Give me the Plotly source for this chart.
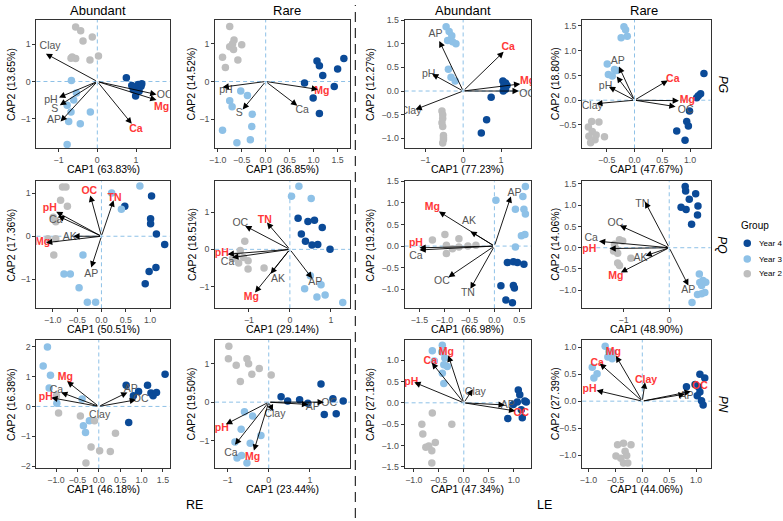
import plotly.graph_objects as go

W, H = 783, 521

# ---------------- data ----------------
COL_TITLES = ["Abundant", "Rare", "Abundant", "Rare"]
ROW_LABELS = ["PG", "PQ", "PN"]
HALF_LABELS = ["RE", "LE"]
GROUPS = ["Year 4", "Year 3", "Year 2"]
LEGEND_TITLE = "Group"

CAP1_PCT = [["63.83", "36.85", "77.23", "47.67"],
            ["50.51", "29.14", "66.98", "48.90"],
            ["46.18", "23.44", "47.34", "44.06"]]
CAP2_PCT = [["13.65", "14.52", "12.27", "18.80"],
            ["17.36", "18.51", "19.23", "14.06"],
            ["16.38", "19.50", "27.18", "27.39"]]

# PG / RE / Abundant
P11_Y4 = [(0.75, 0.10), (1.06, -0.08), (1.13, -0.13), (1.03, -0.20), (0.93, -0.22), (1.08, -0.26), (0.99, -0.39), (1.15, -0.06), (0.89, -0.11)]
P11_Y3 = [(-0.67, 0.03), (-0.54, -0.31), (-0.61, -0.50), (-0.78, -0.64), (-0.68, -0.82), (-0.18, -0.82), (-0.74, -1.08), (-0.44, -1.14), (-0.78, -1.70)]
P11_Y2 = [(-0.56, 1.47), (-0.43, 1.37), (-0.13, 1.20), (-0.37, 1.09), (0.03, 0.69), (-0.65, 0.66), (-0.56, 0.62), (-0.19, 0.58), (-0.68, 0.63)]
P11_VARS = ["Clay", "pH", "S", "AP", "OC", "Mg", "Ca"]
P11_SIG = [0, 0, 0, 0, 0, 1, 1]
P11_TIP = [(-1.33, 0.75), (-0.99, -0.43), (-0.97, -0.64), (-0.95, -1.08), (1.53, -0.35), (1.53, -0.50), (0.89, -1.14)]
P11_LAB = [(-1.22, 0.96), (-1.20, -0.50), (-1.10, -0.75), (-1.12, -1.05), (1.74, -0.37), (1.66, -0.71), (1.00, -1.30)]

# PG / RE / Rare
P12_Y4 = [(1.07, 0.54), (1.12, 0.42), (1.19, 0.16), (0.81, -0.04), (0.99, -0.44), (1.12, -0.85), (1.43, -0.13), (1.50, 0.33), (1.63, 0.61)]
P12_Y3 = [(-0.52, -0.25), (-0.38, -0.37), (-0.75, -0.51), (-0.70, -0.67), (-0.28, -0.87), (-0.29, -1.19), (-0.90, -1.29), (-0.60, -1.62), (-0.32, -1.54)]
P12_Y2 = [(-0.75, 1.46), (-0.66, 1.10), (-0.75, 0.92), (-0.67, 0.85), (-0.50, 0.97), (-0.58, 0.57), (-0.90, 0.64), (-0.84, 0.37), (-0.69, 1.00)]
P12_VARS = ["pH", "S", "Ca", "Mg"]
P12_SIG = [0, 0, 0, 1]
P12_TIP = [(-0.90, -0.15), (-0.48, -0.74), (0.66, -0.64), (1.09, -0.21)]
P12_LAB = [(-0.83, -0.24), (-0.55, -0.84), (0.76, -0.76), (1.17, -0.25)]

# PG / LE / Abundant
P13_Y4 = [(1.05, 0.21), (1.12, 0.17), (1.07, 0.10), (1.16, 0.12), (1.12, 0.04), (1.06, 0.00), (0.74, -0.13), (0.62, -0.61), (0.48, -0.89)]
P13_Y3 = [(-0.45, 1.36), (-0.37, 1.26), (-0.30, 1.17), (-0.41, 1.07), (-0.28, 1.04), (-0.19, 1.00), (-0.39, 0.46), (-0.32, 0.29), (-0.21, 0.21)]
P13_Y2 = [(-0.56, -0.42), (-0.54, -0.50), (-0.56, -0.67), (-0.54, -0.75), (-0.52, -0.94), (-0.52, -1.03), (-0.54, -1.10), (-0.54, -0.58), (-0.52, -0.99)]
P13_VARS = ["AP", "Ca", "pH", "Mg", "OC", "Clay"]
P13_SIG = [0, 1, 0, 1, 0, 0]
P13_TIP = [(-0.63, 1.06), (1.07, 0.83), (-0.82, 0.36), (1.51, 0.15), (1.47, 0.00), (-1.26, -0.39)]
P13_LAB = [(-0.73, 1.19), (1.19, 0.92), (-0.91, 0.35), (1.70, 0.20), (1.69, -0.07), (-1.38, -0.44)]

# PG / LE / Rare
P14_Y4 = [(1.25, 0.54), (1.19, 0.13), (1.15, 0.09), (1.12, 0.05), (0.99, -0.22), (0.94, -0.43), (0.97, -0.52), (0.76, -0.62), (0.91, -0.81)]
P14_Y3 = [(-0.19, 1.48), (-0.16, 1.42), (-0.24, 1.26), (-0.13, 1.29), (-0.49, 0.73), (-0.36, 0.62), (-0.47, 0.52), (-0.40, 0.49), (-0.32, 0.60)]
P14_Y2 = [(-0.77, -0.43), (-0.64, -0.44), (-0.83, -0.54), (-0.76, -0.63), (-0.82, -0.73), (-0.71, -0.80), (-0.54, -0.74), (-0.79, -0.86), (-0.69, -0.70)]
P14_VARS = ["AP", "", "pH", "Ca", "Mg", "OC", "Clay"]
P14_SIG = [0, 0, 0, 1, 1, 0, 0]
P14_TIP = [(-0.28, 0.68), (-0.32, 0.48), (-0.46, 0.27), (0.60, 0.40), (0.80, -0.01), (0.74, -0.13), (-0.69, -0.07)]
P14_LAB = [(-0.30, 0.78), (-0.32, 0.48), (-0.52, 0.28), (0.69, 0.43), (0.95, -0.01), (0.92, -0.20), (-0.76, -0.13)]

# PQ / RE / Abundant
P21_Y4 = [(0.48, 0.70), (1.03, 0.94), (1.01, 0.41), (1.01, 0.29), (1.13, 0.05), (1.30, -0.19), (1.12, -0.73), (0.98, -0.82), (0.90, -1.11)]
P21_Y3 = [(0.79, 1.17), (0.21, 1.01), (0.41, 0.63), (-0.38, -0.44), (-0.77, -0.88), (-0.64, -0.88), (-0.46, -1.20), (-0.29, -1.54), (-0.12, -1.54)]
P21_Y2 = [(-0.80, 1.15), (-0.73, 1.15), (-0.84, 0.84), (-0.70, 0.70), (-0.99, 0.44), (-0.94, 0.34), (-1.10, -0.06), (-0.94, -0.06), (-0.98, -0.44)]
P21_VARS = ["OC", "TN", "pH", "Ca", "AK", "Mg", "AP"]
P21_SIG = [1, 1, 1, 0, 0, 1, 0]
P21_TIP = [(-0.23, 0.95), (0.25, 0.84), (-0.93, 0.57), (-0.89, 0.47), (-0.58, 0.00), (-1.14, -0.15), (-0.21, -0.73)]
P21_LAB = [(-0.25, 1.05), (0.27, 0.88), (-1.06, 0.65), (-0.94, 0.37), (-0.65, -0.02), (-1.21, -0.15), (-0.21, -0.90)]

# PQ / RE / Rare
P22_Y4 = [(0.20, 0.84), (0.44, 0.75), (0.60, 0.78), (0.79, 0.59), (0.28, 0.41), (0.38, 0.22), (0.54, 0.12), (0.68, 0.13), (0.98, 0.00)]
P22_Y3 = [(0.22, 1.70), (0.04, 1.43), (0.52, 1.37), (0.50, -0.71), (0.76, -0.95), (0.36, -1.06), (0.86, -1.23), (0.66, -1.28), (1.29, -1.43)]
P22_Y2 = [(-1.10, 0.22), (-1.21, -0.03), (-1.31, -0.18), (-1.02, -0.31), (-1.25, -0.37), (-1.02, -0.53), (-0.63, -0.50), (-1.13, -0.22), (-1.40, -0.25)]
P22_VARS = ["OC", "TN", "pH", "Ca", "AK", "Mg", "AP"]
P22_SIG = [0, 1, 1, 0, 0, 1, 0]
P22_TIP = [(-1.09, 0.63), (-0.56, 0.72), (-1.52, -0.13), (-1.41, -0.22), (-0.47, -0.66), (-0.85, -1.16), (0.54, -0.78)]
P22_LAB = [(-1.21, 0.69), (-0.61, 0.79), (-1.66, -0.11), (-1.52, -0.35), (-0.29, -0.81), (-0.94, -1.30), (0.62, -0.90)]

# PQ / LE / Abundant
P23_Y4 = [(0.26, -0.38), (0.38, -0.36), (0.46, -0.38), (0.59, -0.42), (0.13, -0.92), (0.38, -0.91), (0.40, -0.97), (0.23, -1.25), (0.36, -1.31)]
P23_Y3 = [(0.62, 1.38), (0.03, 1.06), (0.57, 1.15), (0.42, 0.85), (0.59, 0.85), (0.62, 0.74), (0.54, 0.24), (0.61, 0.27), (0.42, -0.02)]
P23_Y2 = [(-1.24, 0.14), (-0.99, 0.27), (-0.71, 0.17), (-0.96, 0.02), (-0.71, -0.02), (-0.84, -0.06), (-0.37, 0.02), (-0.96, -0.17), (-0.53, 0.00)]
P23_VARS = ["AP", "Mg", "AK", "pH", "Ca", "OC", "TN"]
P23_SIG = [0, 1, 0, 1, 0, 0, 0]
P23_TIP = [(0.33, 1.15), (-1.11, 0.80), (-0.48, 0.34), (-1.50, -0.04), (-1.50, -0.09), (-0.92, -0.72), (-0.48, -0.99)]
P23_LAB = [(0.40, 1.23), (-1.24, 0.89), (-0.51, 0.57), (-1.57, 0.06), (-1.57, -0.23), (-1.05, -0.82), (-0.53, -1.10)]

# PQ / LE / Rare
P24_Y4 = [(0.35, 1.44), (0.36, 1.33), (0.58, 1.27), (0.44, 1.14), (0.26, 0.95), (0.37, 0.90), (0.63, 0.98), (0.62, 0.77), (0.49, 0.55)]
P24_Y3 = [(0.66, -0.62), (0.74, -0.77), (0.80, -0.81), (0.71, -0.89), (0.62, -1.10), (0.71, -1.08), (0.50, -1.29), (0.67, -0.82), (0.78, -1.05)]
P24_Y2 = [(-1.09, 0.19), (-1.02, 0.16), (-1.20, 0.08), (-1.17, -0.02), (-1.22, -0.08), (-1.13, -0.13), (-0.84, -0.25), (-1.13, -0.36), (-1.09, -0.42)]
P24_VARS = ["TN", "OC", "Ca", "pH", "AK", "Mg", "AP"]
P24_SIG = [0, 0, 0, 1, 0, 1, 0]
P24_TIP = [(-0.53, 1.08), (-1.08, 0.52), (-1.54, 0.15), (-1.31, -0.02), (-0.52, -0.19), (-1.06, -0.58), (0.42, -0.89)]
P24_LAB = [(-0.59, 1.02), (-1.18, 0.58), (-1.71, 0.21), (-1.75, -0.04), (-0.63, -0.25), (-1.17, -0.67), (0.42, -1.00)]

# PN / RE / Abundant
P31_Y4 = [(1.55, 1.08), (0.64, 0.71), (1.14, 0.71), (1.22, 0.45), (1.27, 0.36), (1.35, 0.47), (0.81, 0.36), (0.93, 0.50), (0.70, -0.54)]
P31_Y3 = [(-1.20, 1.99), (-1.30, 1.35), (-1.13, 1.04), (-1.16, 0.62), (-0.98, 0.11), (-0.39, 0.25), (-0.22, -0.48), (-0.36, -0.65), (-0.31, -0.87)]
P31_Y2 = [(-0.94, -0.22), (-0.43, -0.32), (-0.10, -0.48), (0.39, -0.90), (-0.18, -1.36), (0.02, -1.48), (0.27, -1.51), (-0.30, -1.89), (-0.99, 0.36)]
P31_VARS = ["Mg", "Ca", "pH", "AP", "OC", "Clay"]
P31_SIG = [1, 0, 1, 0, 0, 0]
P31_TIP = [(-0.74, 0.84), (-0.88, 0.47), (-1.11, 0.29), (0.67, 0.47), (0.87, 0.22), (0.02, -0.03)]
P31_LAB = [(-0.78, 0.97), (-0.99, 0.53), (-1.24, 0.31), (0.75, 0.58), (0.98, 0.22), (0.02, -0.30)]

# PN / RE / Rare
P32_Y4 = [(1.27, 0.47), (0.30, 0.14), (0.46, 0.03), (0.75, 0.06), (0.95, -0.03), (1.56, 0.09), (1.81, 0.03), (1.35, -0.32), (1.64, -0.30)]
P32_Y3 = [(-0.59, -0.25), (-0.39, -0.36), (-0.67, -0.70), (-0.19, -0.86), (-0.82, -1.03), (-0.45, -1.06), (-0.77, -1.44), (-0.66, -1.38), (-0.53, -1.57)]
P32_Y2 = [(-0.97, 1.44), (-0.98, 1.12), (-0.53, 1.12), (-0.79, 0.95), (-0.49, 0.99), (-0.23, 0.87), (-0.41, 0.72), (0.06, 0.70), (-0.69, 0.53)]
P32_VARS = ["pH", "Ca", "Mg", "Clay", "AP", "OC"]
P32_SIG = [1, 0, 1, 0, 0, 0]
P32_TIP = [(-1.04, -0.57), (-0.82, -1.10), (-0.36, -1.25), (0.10, -0.23), (0.96, -0.06), (1.34, 0.00)]
P32_LAB = [(-1.14, -0.68), (-0.92, -1.31), (-0.39, -1.42), (0.15, -0.31), (1.07, -0.13), (1.47, -0.03)]

# PN / LE / Abundant
P33_Y4 = [(1.09, 0.30), (1.12, 0.19), (1.22, 0.04), (1.07, 0.02), (0.99, -0.04), (1.15, -0.16), (0.88, -0.37), (1.17, -0.35), (1.25, 0.02)]
P33_Y3 = [(-0.43, 1.35), (-0.63, 1.22), (-0.44, 1.19), (-0.38, 1.05), (-0.59, 0.98), (-0.40, 0.89), (-0.33, 0.85), (-0.43, 0.69), (-0.40, 0.45)]
P33_Y2 = [(-0.63, -0.24), (-0.84, -0.50), (-0.24, -0.50), (-0.82, -0.73), (-0.57, -0.93), (-0.70, -1.01), (-0.64, -1.12), (-0.76, -1.04), (-0.64, -1.41)]
P33_VARS = ["pH", "Ca", "Mg", "Clay", "AP", "OC"]
P33_SIG = [1, 1, 1, 0, 0, 1]
P33_TIP = [(-0.99, 0.48), (-0.64, 0.94), (-0.31, 1.11), (0.18, 0.32), (0.82, -0.05), (1.03, -0.19)]
P33_LAB = [(-1.05, 0.48), (-0.67, 0.98), (-0.35, 1.17), (0.23, 0.25), (0.88, -0.06), (1.15, -0.24)]

# PN / LE / Rare
P34_Y4 = [(1.07, 0.50), (1.16, 0.43), (0.82, 0.27), (1.04, 0.27), (1.07, 0.17), (1.02, 0.10), (1.10, 0.01), (1.13, -0.07), (0.98, 0.31)]
P34_Y3 = [(-0.69, 1.02), (-0.62, 0.92), (-0.64, 0.82), (-0.56, 0.79), (-0.60, 0.84), (-0.93, 0.63), (-0.84, 0.51), (-0.90, 0.43), (-0.55, 0.90)]
P34_Y2 = [(-0.46, -0.81), (-0.35, -0.78), (-0.21, -0.81), (-0.32, -0.93), (-0.49, -1.02), (-0.40, -1.06), (-0.29, -1.01), (-0.35, -1.15), (-0.27, -1.15)]
P34_VARS = ["Mg", "Ca", "pH", "Clay", "OC", "AP"]
P34_SIG = [1, 1, 1, 1, 1, 0]
P34_TIP = [(-0.49, 0.84), (-0.79, 0.70), (-0.85, 0.20), (0.05, 0.35), (0.90, 0.18), (0.79, 0.13)]
P34_LAB = [(-0.54, 0.90), (-0.84, 0.71), (-0.98, 0.21), (0.07, 0.38), (1.07, 0.27), (0.82, 0.09)]

# axis extents (rows x cols)
X_RANGE = [[(-1.573, 1.872), (-1.055, 1.759), (-1.546, 1.799), (-0.940, 1.369)],
           [(-1.336, 1.404), (-1.825, 1.468), (-1.796, 0.737), (-1.906, 0.906)],
           [(-1.457, 1.659), (-1.304, 1.976), (-1.184, 1.349), (-1.116, 1.268)]]
Y_RANGE = [[(-1.805, 1.664), (-1.774, 1.635), (-1.215, 1.507), (-0.974, 1.623)],
           [(-1.679, 1.282), (-1.586, 1.833), (-1.439, 1.500), (-1.423, 1.562)],
           [(-2.077, 2.231), (-1.712, 1.610), (-1.538, 1.477), (-1.250, 1.140)]]
X_DTICK = [[1, 0.5, 1, 0.5], [0.5, 1, 0.5, 1], [0.5, 1, 0.5, 0.5]]
Y_DTICK = [[1, 1, 0.5, 0.5], [1, 1, 0.5, 0.5], [1, 1, 0.5, 0.5]]

PANELS = [
    [(P11_Y4, P11_Y3, P11_Y2, P11_VARS, P11_SIG, P11_TIP, P11_LAB),
     (P12_Y4, P12_Y3, P12_Y2, P12_VARS, P12_SIG, P12_TIP, P12_LAB),
     (P13_Y4, P13_Y3, P13_Y2, P13_VARS, P13_SIG, P13_TIP, P13_LAB),
     (P14_Y4, P14_Y3, P14_Y2, P14_VARS, P14_SIG, P14_TIP, P14_LAB)],
    [(P21_Y4, P21_Y3, P21_Y2, P21_VARS, P21_SIG, P21_TIP, P21_LAB),
     (P22_Y4, P22_Y3, P22_Y2, P22_VARS, P22_SIG, P22_TIP, P22_LAB),
     (P23_Y4, P23_Y3, P23_Y2, P23_VARS, P23_SIG, P23_TIP, P23_LAB),
     (P24_Y4, P24_Y3, P24_Y2, P24_VARS, P24_SIG, P24_TIP, P24_LAB)],
    [(P31_Y4, P31_Y3, P31_Y2, P31_VARS, P31_SIG, P31_TIP, P31_LAB),
     (P32_Y4, P32_Y3, P32_Y2, P32_VARS, P32_SIG, P32_TIP, P32_LAB),
     (P33_Y4, P33_Y3, P33_Y2, P33_VARS, P33_SIG, P33_TIP, P33_LAB),
     (P34_Y4, P34_Y3, P34_Y2, P34_VARS, P34_SIG, P34_TIP, P34_LAB)],
]

# ---------------- styling ----------------
FONT = "Liberation Sans, Arial, Helvetica, sans-serif"
GROUP_COLORS = ["#0B4A97", "#8EC1E7", "#BEBEBE"]
REF_LINE = "#8EC1E7"
RED = "#FF3838"
GREY_TXT = "#555555"
COL_PX = [(30.7, 165.0), (210.7, 346.7), (401.7, 529.3), (580.7, 710.0)]
ROW_PX = [(15.0, 145.7), (179.0, 308.0), (340.0, 470.7)]
YTITLE_X = [5.0, 186.7, 366.7, 553.3]
TITLE_X = [93.0, 283.0, 461.0, 643.0]
LEG_TITLE_XY = (739, 224)
LEG_KEY_X, LEG_TEXT_X = 747, 757
LEG_ROW_Y = [242, 258, 273]

fig = go.Figure()
layout = {}
annotations = []
shapes = []

for r in range(3):
    for c in range(4):
        k = r * 4 + c + 1
        xs = "" if k == 1 else str(k)
        xref, yref = "x" + xs, "y" + xs
        y4, y3, y2, vnames, sig, tips, labs = PANELS[r][c]

        # points
        for gi, pts in enumerate([y4, y3, y2]):
            fig.add_trace(go.Scatter(
                x=[p[0] for p in pts], y=[p[1] for p in pts], mode="markers",
                marker=dict(color=GROUP_COLORS[gi], size=7.5, line=dict(width=0)),
                name=GROUPS[gi], showlegend=False, xaxis=xref, yaxis=yref,
                hoverinfo="skip"))

        # arrows from origin to biplot tips
        for t in tips:
            annotations.append(dict(
                x=t[0], y=t[1], ax=0, ay=0, xref=xref, yref=yref,
                axref=xref, ayref=yref, text="", showarrow=True,
                arrowhead=2, arrowsize=1.4, arrowwidth=0.9, arrowcolor="black",
                standoff=0, startstandoff=0))

        # labels (grey: ns, red bold: significant)
        for flag, color in [(0, GREY_TXT), (1, RED)]:
            sel = [i for i in range(len(vnames)) if sig[i] == flag and vnames[i]]
            if not sel:
                continue
            fig.add_trace(go.Scatter(
                x=[labs[i][0] for i in sel], y=[labs[i][1] for i in sel],
                mode="text",
                text=[("<b>%s</b>" % vnames[i]) if flag else vnames[i] for i in sel],
                textfont=dict(color=color, size=10.5, family=FONT),
                textposition="middle center", showlegend=False,
                xaxis=xref, yaxis=yref, hoverinfo="skip"))

        # dashed reference lines at 0
        shapes.append(dict(type="line", xref=xref, yref=yref + " domain",
                           x0=0, x1=0, y0=0, y1=1, layer="below",
                           line=dict(color=REF_LINE, width=1, dash="4px,3px")))
        shapes.append(dict(type="line", xref=xref + " domain", yref=yref,
                           x0=0, x1=1, y0=0, y1=0, layer="below",
                           line=dict(color=REF_LINE, width=1, dash="4px,3px")))

        x0, x1 = COL_PX[c]
        t0, t1 = ROW_PX[r]
        dx, dy = X_DTICK[r][c], Y_DTICK[r][c]
        axcommon = dict(showline=True, mirror=True, linecolor="#333333", linewidth=1,
                        ticks="outside", ticklen=3, tickwidth=1, tickcolor="#333333",
                        showgrid=False, zeroline=False, tick0=0,
                        tickfont=dict(size=8.8, color="#4D4D4D", family=FONT),
                        fixedrange=True)
        layout["xaxis" + xs] = dict(axcommon, domain=[x0 / W, x1 / W], range=list(X_RANGE[r][c]),
                                    dtick=dx, tickformat=".0f" if dx == 1 else ".1f",
                                    anchor=yref)
        layout["yaxis" + xs] = dict(axcommon, domain=[1 - t1 / H, 1 - t0 / H], range=list(Y_RANGE[r][c]),
                                    dtick=dy, tickformat=".0f" if dy == 1 else ".1f",
                                    anchor=xref)

        # axis titles
        annotations.append(dict(x=(x0 + x1) / 2 / W, y=1 - (t1 + 21) / H, xref="paper", yref="paper",
                                text="CAP1 (%s%%)" % CAP1_PCT[r][c], showarrow=False,
                                font=dict(size=10.5, color="black", family=FONT),
                                xanchor="center", yanchor="middle"))
        annotations.append(dict(x=YTITLE_X[c] / W, y=1 - (t0 + t1) / 2 / H, xref="paper", yref="paper",
                                text="CAP2 (%s%%)" % CAP2_PCT[r][c], showarrow=False, textangle=-90,
                                font=dict(size=10.5, color="black", family=FONT),
                                xanchor="center", yanchor="middle"))

# column titles
for c in range(4):
    annotations.append(dict(x=TITLE_X[c] / W, y=1 - 6 / H, xref="paper", yref="paper",
                            text=COL_TITLES[c], showarrow=False,
                            font=dict(size=13, color="black", family=FONT),
                            xanchor="center", yanchor="middle"))
# row strip labels
for r in range(3):
    annotations.append(dict(x=722 / W, y=1 - (ROW_PX[r][0] + ROW_PX[r][1]) / 2 / H,
                            xref="paper", yref="paper", text="<i>%s</i>" % ROW_LABELS[r],
                            showarrow=False, textangle=90,
                            font=dict(size=12, color="black", family=FONT),
                            xanchor="center", yanchor="middle"))
# half labels
for txt, xp in zip(HALF_LABELS, [190, 543]):
    annotations.append(dict(x=xp / W, y=1 - 508 / H, xref="paper", yref="paper",
                            text=txt, showarrow=False,
                            font=dict(size=12.5, color="black", family=FONT),
                            xanchor="center", yanchor="middle"))

# separator between RE and LE halves
shapes.append(dict(type="line", xref="paper", yref="paper", x0=352 / W, x1=352 / W, y0=0, y1=1,
                   line=dict(color="black", width=1, dash="10px,6px")))

# legend (keys + text to the right of the strip labels)
annotations.append(dict(x=LEG_TITLE_XY[0] / W, y=1 - LEG_TITLE_XY[1] / H, xref="paper", yref="paper",
                        text=LEGEND_TITLE, showarrow=False, xanchor="left", yanchor="middle",
                        font=dict(size=10, color="black", family=FONT)))
for gi, g in enumerate(GROUPS):
    yy = 1 - LEG_ROW_Y[gi] / H
    shapes.append(dict(type="circle", xref="paper", yref="paper",
                       x0=(LEG_KEY_X - 3.8) / W, x1=(LEG_KEY_X + 3.8) / W,
                       y0=yy - 3.8 / H, y1=yy + 3.8 / H,
                       fillcolor=GROUP_COLORS[gi], line=dict(width=0)))
    annotations.append(dict(x=LEG_TEXT_X / W, y=yy, xref="paper", yref="paper",
                            text=g, showarrow=False, xanchor="left", yanchor="middle",
                            font=dict(size=8, color="black", family=FONT)))

fig.update_layout(
    width=W, height=H, margin=dict(l=0, r=0, t=0, b=0),
    paper_bgcolor="white", plot_bgcolor="white",
    font=dict(family=FONT), showlegend=False,
    annotations=annotations, shapes=shapes,
    **layout)

fig.write_html("out.html",
               config={"displayModeBar": False, "staticPlot": True},
               post_script="document.body.style.margin='0';document.body.style.padding='0';"
                           "document.documentElement.style.margin='0';")
